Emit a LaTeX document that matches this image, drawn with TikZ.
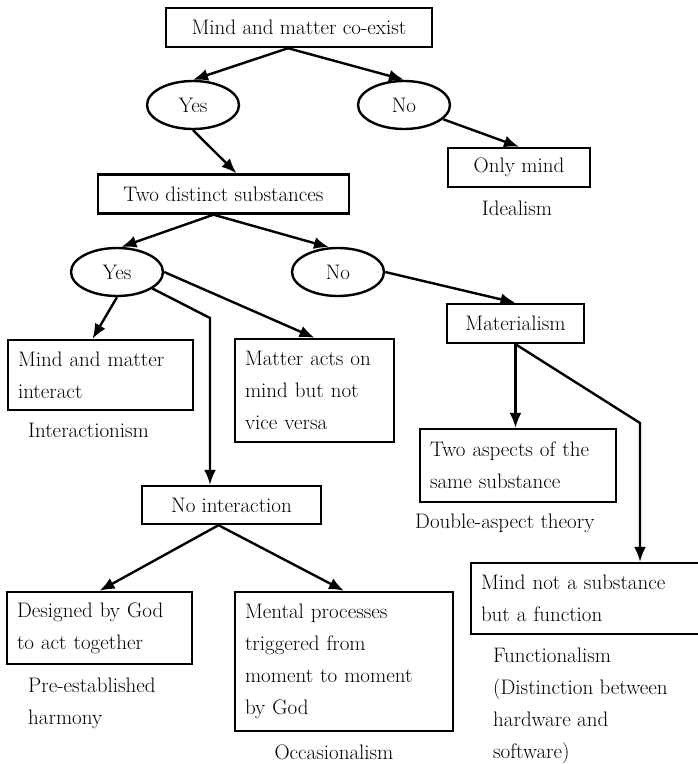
\documentclass[tikz,border=0pt]{standalone}
\usepackage{tikz}
\usetikzlibrary{arrows.meta, positioning, shapes.geometric, calc}

\begin{document}
\begin{tikzpicture}[
    x=1pt, y=-1pt,
    font=\fontsize{21}{32}\selectfont,
    question/.style={rectangle, draw=black, line width=2.4pt, align=center, inner xsep=10pt, inner ysep=4pt, minimum height=39pt},
    choice/.style={rectangle, draw=black, line width=2.4pt, align=left, inner xsep=10pt, inner ysep=4pt},
    answer/.style={ellipse, draw=black, line width=2.4pt, minimum width=92pt, minimum height=48pt, inner sep=0pt},
    school/.style={inner sep=0pt, anchor=west, align=left},
    line/.style={draw=black, line width=2.4pt, -{Latex[length=15pt, width=12pt]}}
]
    \useasboundingbox (0,0) rectangle (697,764);

    \node[question, minimum width=266pt] (coexist) at (299,27.5) {Mind and matter co-exist};
    \node[answer] (yesA) at (193,105) {Yes};
    \node[answer] (noA) at (404,105) {No};
    \node[question, minimum width=251pt] (two) at (223.5,194) {Two distinct substances};
    \node[question, minimum width=142pt] (onlymind) at (519,167.5) {Only mind};
    \node[school, anchor=center] (idealism) at (517,208) {Idealism};

    \node[answer] (yesB) at (117,272) {Yes};
    \node[answer] (noB) at (338,272) {No};
    \node[choice, text width=165pt, minimum height=70pt] (interact) at (100.5,375) {Mind and matter\\interact};
    \node[school] (interactionism) at (28,430) {Interactionism};
    \node[choice, text width=139pt, minimum height=103pt] (acts) at (314.5,390.5) {Matter acts on\\mind but not\\vice versa};
    \node[question, minimum width=137pt] (materialism) at (515.5,323.5) {Materialism};
    \node[choice, text width=176pt, minimum height=73pt] (aspects) at (518,465.5) {Two aspects of the\\same substance};
    \node[school] (doubleaspect) at (415,523) {Double-aspect theory};

    \node[question, minimum width=179pt, minimum height=38pt] (noint) at (231.5,505) {No interaction};
    \node[choice, text width=165pt, minimum height=72pt] (designed) at (99.5,628) {Designed by God\\to act together};
    \node[school] (harmony) at (28,703.5) {Pre-established\\harmony};
    \node[choice, text width=198pt, minimum height=139pt] (mental) at (344,661.5) {Mental processes\\triggered from\\moment to moment\\by God};
    \node[school, anchor=center] (occasionalism) at (334,752) {Occasionalism};
    \node[choice, text width=209pt, minimum height=71pt] (function) at (585.5,598.5) {Mind not a substance\\but a function};
    \node[school] (functionalism) at (493,705.5) {Functionalism\\(Distinction between\\hardware and\\software)};

    \coordinate (bendA) at (210,318);
    \coordinate (bendB) at (640,423);

    % Connectors
    \draw[line] ($(coexist.south)+(-11,0)$) -- (yesA.north);
    \draw[line] ($(coexist.south)+(-11,0)$) -- (noA.north);
    \draw[line] (yesA.south) -- ($(two.north)+(13,0)$);
    \draw[line] (noA.-20) -- (onlymind.north);
    \draw[line] ($(two.south)+(-10,0)$) -- (yesB.80);
    \draw[line] ($(two.south)+(-10,0)$) -- (noB.110);
    \draw[line] (yesB.south) -- ($(interact.north)+(-8,0)$);
    \draw[line] (yesB.east) -- (acts.north);
    \draw[line] (yesB.-25) -- (bendA) -- (bendA |- noint.north);
    \draw[line] (noB.east) -- (materialism.north);
    \draw[line] (materialism.south) -- (materialism.south |- aspects.north);
    \draw[line] (materialism.south) -- (bendB) -- (bendB |- function.north);
    \draw[line] ($(noint.south)+(-13,0)$) -- (designed.north);
    \draw[line] ($(noint.south)+(-13,0)$) -- (mental.north);
\end{tikzpicture}
\end{document}
